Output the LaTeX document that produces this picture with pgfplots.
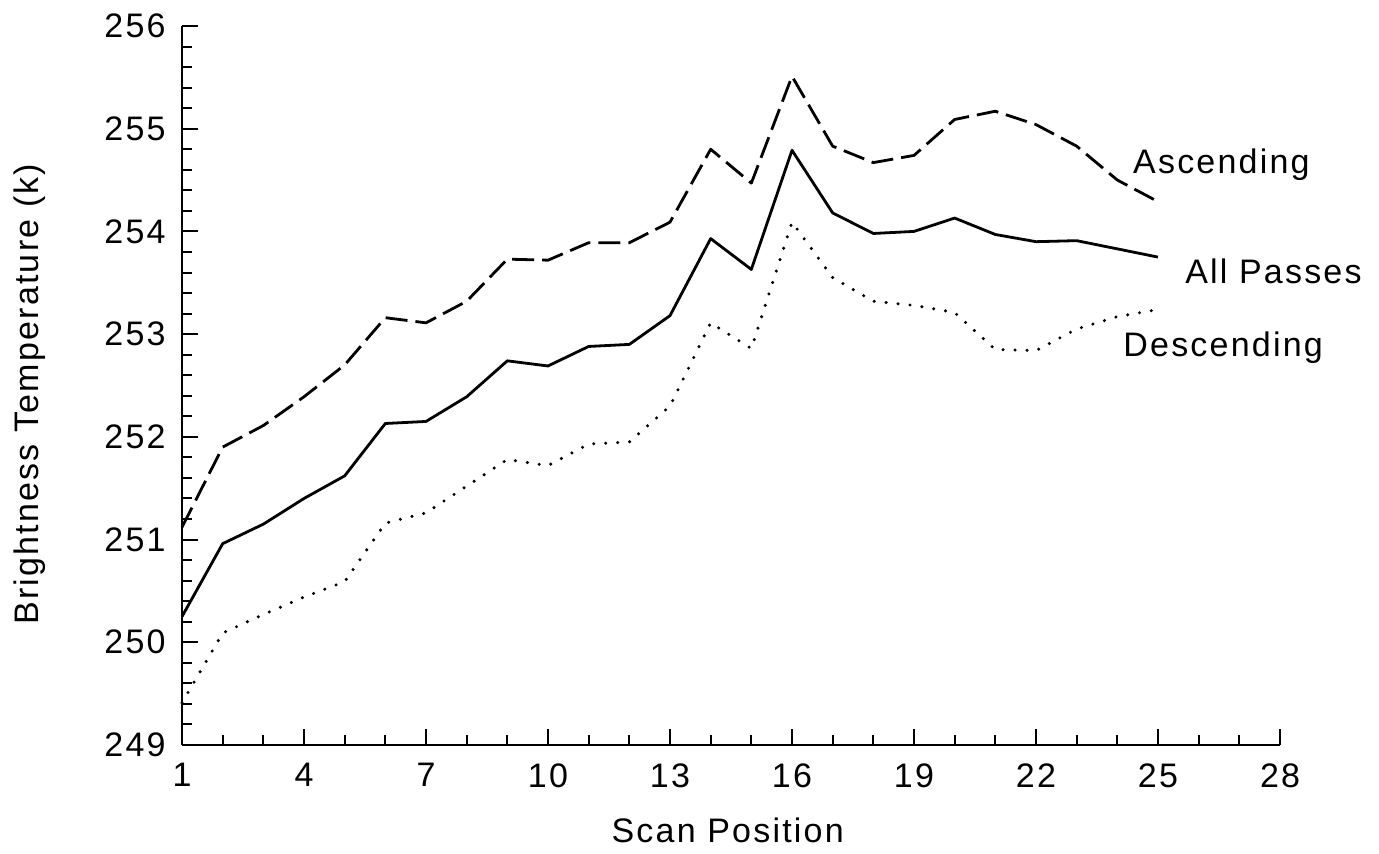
\documentclass[border=0pt]{standalone}
\usepackage{fontspec}
\setmainfont{Liberation Sans}[LetterSpace=6.5]
\usepackage{pgfplots}
\pgfplotsset{compat=1.18}

\pgfplotstableread{
pos asc all desc
1  251.12 250.25 249.41
2  251.90 250.96 250.09
3  252.11 251.15 250.27
4  252.39 251.40 250.44
5  252.70 251.62 250.59
6  253.16 252.13 251.16
7  253.11 252.15 251.26
8  253.32 252.39 251.52
9  253.73 252.74 251.78
10 253.72 252.69 251.72
11 253.89 252.88 251.93
12 253.89 252.90 251.95
13 254.09 253.18 252.30
14 254.80 253.93 253.11
15 254.47 253.63 252.86
16 255.51 254.79 254.09
17 254.83 254.18 253.55
18 254.67 253.98 253.32
19 254.74 254.00 253.28
20 255.09 254.13 253.21
21 255.17 253.97 252.85
22 255.04 253.90 252.84
23 254.83 253.91 253.05
24 254.50 253.83 253.17
25 254.29 253.75 253.24
}\scandata

\begin{document}
\fontsize{17}{20}\selectfont
\begin{tikzpicture}[x=1pt,y=1pt]
\path[use as bounding box] (-91,-54.5) rectangle (598.5,372.5);
\begin{axis}[
  at={(0,0)}, anchor=south west, scale only axis,
  width=549pt, height=359.5pt,
  xmin=1, xmax=28, ymin=249, ymax=256,
  axis x line*=bottom, axis y line*=left,
  axis line style={line width=1.4pt},
  xtick={1,4,...,28}, ytick={249,...,256},
  minor x tick num=2, minor y tick num=4,
  tick align=inside,
  major tick length=8pt, minor tick length=5pt,
  every tick/.style={black, line width=1pt},
  /pgf/number format/assume math mode=true,
  xticklabel style={anchor=north, inner sep=0pt, yshift=-9pt},
  yticklabel style={anchor=east, inner sep=0pt, xshift=-8pt},
  xlabel={Scan Position},
  ylabel={Brightness Temperature (k)},
  xlabel style={at={(axis description cs:0.497,-0.1001)}, anchor=north, inner sep=0pt},
  ylabel style={at={(axis description cs:-0.1539,0.488)}, anchor=north, inner sep=0pt},
  clip=false,
]
% ascending passes
\addplot[black, line width=1.4pt, dash pattern=on 11pt off 4pt, line join=round, no markers]
  table[x=pos, y=asc] {\scandata};
% all passes
\addplot[black, line width=1.4pt, line join=round, no markers]
  table[x=pos, y=all] {\scandata};
% descending passes
\addplot[black, line width=1.7pt, dash pattern=on 0pt off 6pt, line cap=round, no markers]
  table[x=pos, y=desc] {\scandata};

\node[anchor=base west, inner sep=0pt] at (axis cs:24.38,254.56) {Ascending};
\node[anchor=base west, inner sep=0pt] at (axis cs:25.66,253.49) {All Passes};
\node[anchor=base west, inner sep=0pt] at (axis cs:24.14,252.78) {Descending};
\end{axis}
\end{tikzpicture}
\end{document}
